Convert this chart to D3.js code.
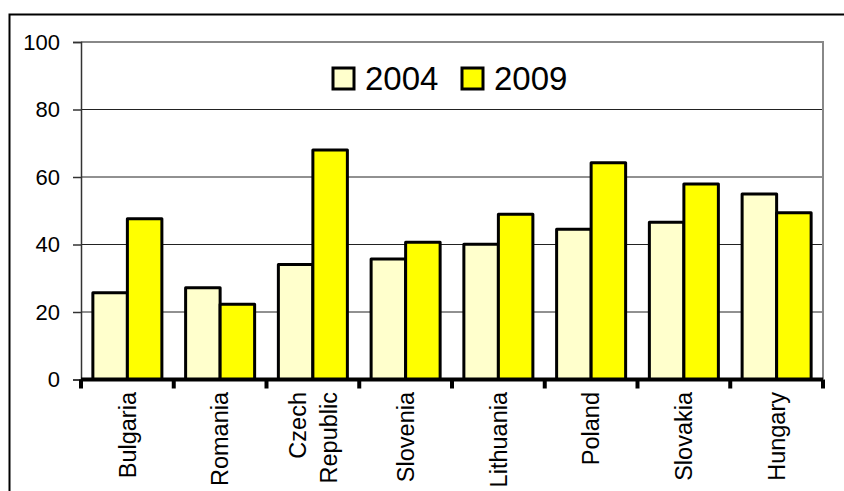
<!DOCTYPE html>
<html>
<head>
<meta charset="utf-8">
<script src="https://cdn.jsdelivr.net/npm/d3@7"></script>
<style>
  body { margin: 0; background: #fff; }
  svg { display: block; font-family: "Liberation Sans", Arial, sans-serif; }
</style>
</head>
<body>
<div id="container"></div>
<script>
const countries = ["Bulgaria", "Romania", "Czech Republic", "Slovenia", "Lithuania", "Poland", "Slovakia", "Hungary"]
const years = ["2004", "2009"]
const values2004 = [25.7, 27.2, 34.1, 35.7, 40.1, 44.5, 46.6, 55.0]
const values2009 = [47.6, 22.3, 68.0, 40.7, 49.0, 64.2, 57.9, 49.4]
const yTicks = [0, 20, 40, 60, 80, 100]

const colors = ["#ffffcc", "#ffff00"]

const width = 844, height = 491
const plotLeft = 81, plotRight = 823, plotTop = 42, plotBottom = 379.5

const svg = d3.select("#container").append("svg")
    .attr("width", width)
    .attr("height", height)

// outer frame (runs off the bottom/right of the picture)
svg.append("path")
    .attr("d", `M9.5,${height + 5} V14.5 H${width + 5}`)
    .attr("fill", "none")
    .attr("stroke", "#000")
    .attr("stroke-width", 2)

const x = d3.scaleBand().domain(countries).range([plotLeft, plotRight]).padding(0)
const xSub = d3.scaleBand().domain(years).range([0, x.bandwidth()]).paddingInner(0).paddingOuter(0.344)
const y = d3.scaleLinear().domain([0, 100]).range([plotBottom, plotTop])

// gridlines
svg.append("g")
    .selectAll("line")
    .data(yTicks.filter(d => d > 0 && d < 100))
    .enter()
    .append("line")
    .attr("x1", plotLeft).attr("x2", plotRight)
    .attr("y1", d => y(d)).attr("y2", d => y(d))
    .attr("stroke", "#222")
    .attr("stroke-width", 1)

// plot area border top/right
svg.append("path")
    .attr("d", `M${plotLeft},${y(100)} H${plotRight} V${plotBottom}`)
    .attr("fill", "none")
    .attr("stroke", "#888")
    .attr("stroke-width", 2)

// y axis
const yAxis = svg.append("g")
    .attr("transform", `translate(${plotLeft},0)`)
    .call(d3.axisLeft(y).tickValues(yTicks).tickSize(8).tickPadding(13))
yAxis.select(".domain").attr("stroke", "#333").attr("stroke-width", 1.5)
yAxis.selectAll(".tick line").attr("stroke", "#333").attr("stroke-width", 1.5)
yAxis.selectAll("text")
    .attr("font-size", 22)
    .attr("font-family", "Liberation Sans, Arial, sans-serif")
    .attr("fill", "#000")

// bars
const rows = countries.map((c, i) => ({ country: c, vals: [values2004[i], values2009[i]] }))

const groups = svg.append("g")
    .selectAll("g")
    .data(rows)
    .enter()
    .append("g")
    .attr("transform", d => `translate(${x(d.country)},0)`)

groups.selectAll("rect")
    .data(d => d.vals.map((v, j) => ({ year: years[j], value: v, idx: j })))
    .enter()
    .append("rect")
    .attr("x", d => xSub(d.year))
    .attr("y", d => y(d.value))
    .attr("width", xSub.bandwidth())
    .attr("height", d => plotBottom - y(d.value))
    .attr("fill", d => colors[d.idx])
    .attr("stroke", "#000")
    .attr("stroke-width", 3)
    .attr("stroke-linejoin", "round")

// x axis: thick line with ticks at category boundaries
const xAxis = svg.append("g")
xAxis.append("line")
    .attr("x1", plotLeft).attr("x2", plotRight)
    .attr("y1", plotBottom).attr("y2", plotBottom)
    .attr("stroke", "#000")
    .attr("stroke-width", 4)
xAxis.selectAll(".xt")
    .data(d3.range(countries.length + 1))
    .enter()
    .append("line")
    .attr("class", "xt")
    .attr("x1", i => plotLeft + i * x.step()).attr("x2", i => plotLeft + i * x.step())
    .attr("y1", plotBottom).attr("y2", plotBottom + 9)
    .attr("stroke", "#000")
    .attr("stroke-width", 4)

// category labels, rotated
const labels = svg.append("g")
    .selectAll("text")
    .data(countries)
    .enter()
    .append("text")
    .attr("transform", d => `translate(${x(d) + x.bandwidth() / 2},392) rotate(-90)`)
    .attr("text-anchor", "end")
    .attr("font-size", 23.5)
    .attr("fill", "#000")

labels.each(function (d) {
    const parts = d === "Czech Republic" ? ["Czech", "Republic"] : [d]
    const t = d3.select(this)
    parts.forEach((p, k) => {
        const off = parts.length === 1 ? 0 : (k === 0 ? -15.5 : 15.5)
        t.append("tspan")
            .attr("x", 0)
            .attr("y", off)
            .attr("dy", "0.35em")
            .text(p)
    })
})

// legend
const legend = svg.append("g")
    .selectAll("g")
    .data(years)
    .enter()
    .append("g")
    .attr("transform", (d, i) => `translate(${333 + i * 129},68)`)

legend.append("rect")
    .attr("width", 21)
    .attr("height", 21)
    .attr("fill", (d, i) => colors[i])
    .attr("stroke", "#000")
    .attr("stroke-width", 3)

legend.append("text")
    .attr("x", 32)
    .attr("y", 22)
    .attr("font-size", 33)
    .attr("fill", "#000")
    .text(d => d)
</script>
</body>
</html>
